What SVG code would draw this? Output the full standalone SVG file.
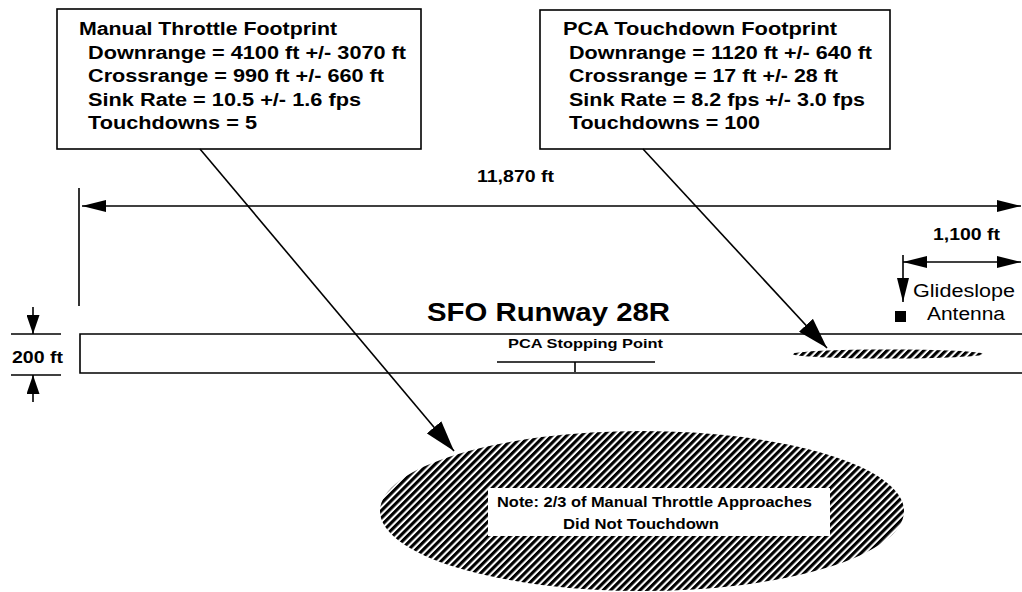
<svg xmlns="http://www.w3.org/2000/svg" width="1022" height="592" viewBox="0 0 1022 592">
<style>
text{font-family:"Liberation Sans",Arial,Helvetica,sans-serif;fill:#000}
.b{font-weight:bold}
.box{fill:#fff;stroke:#000;stroke-width:1.6}
.ln{fill:none;stroke:#000;stroke-width:1.6}
.t18{font-size:18px;font-weight:bold}
</style>
<defs>
<pattern id="hatch" patternUnits="userSpaceOnUse" width="5.2" height="10" patternTransform="rotate(45)">
<rect width="5.2" height="10" fill="#fff"/>
<rect width="3.1" height="10" fill="#000"/>
</pattern>
<marker id="dimA" markerUnits="userSpaceOnUse" markerWidth="24" markerHeight="12" refX="24" refY="6" orient="auto-start-reverse" viewBox="0 0 24 12">
<path d="M0,0 L24,6 L0,12 z" fill="#000"/>
</marker>
<marker id="smA" markerUnits="userSpaceOnUse" markerWidth="19" markerHeight="13" refX="19" refY="6.5" orient="auto" viewBox="0 0 19 13">
<path d="M0,0 L19,6.5 L0,13 z" fill="#000"/>
</marker>
<marker id="bigA" markerUnits="userSpaceOnUse" markerWidth="31" markerHeight="19" refX="31" refY="9.5" orient="auto" viewBox="0 0 31 19">
<path d="M0,0 L31,9.5 L0,19 z" fill="#000"/>
</marker>
</defs>
<rect width="1022" height="592" fill="#fff"/>

<g id="manual-footprint">
<ellipse cx="642" cy="511" rx="262" ry="80" fill="url(#hatch)"/>
<rect x="488" y="488" width="342" height="48" fill="#fff"/>
<text x="497" y="507" class="b" font-size="14" textLength="315" lengthAdjust="spacingAndGlyphs">Note: 2/3 of Manual Throttle Approaches</text>
<text x="563" y="529" class="b" font-size="14" textLength="156" lengthAdjust="spacingAndGlyphs">Did Not Touchdown</text>
</g>

<g id="runway">
<path class="ln" d="M1022,334 L80,334 L80,373 L1022,373"/>
<text x="427" y="321" class="b" font-size="26" textLength="243" lengthAdjust="spacingAndGlyphs">SFO Runway 28R</text>
</g>

<g id="stopping-point">
<text x="508" y="348" class="b" font-size="13" textLength="155" lengthAdjust="spacingAndGlyphs">PCA Stopping Point</text>
<path class="ln" d="M497,362 L655,362 M575,362 L575,372" stroke-width="1.3"/>
</g>

<g id="pca-footprint">
<ellipse cx="888" cy="354" rx="95" ry="4.5" fill="url(#hatch)"/>
</g>

<g id="glideslope">
<rect x="895" y="311" width="11" height="11" fill="#000"/>
<text x="913" y="297" font-size="18" textLength="102" lengthAdjust="spacingAndGlyphs">Glideslope</text>
<text x="927" y="320" font-size="18" textLength="78" lengthAdjust="spacingAndGlyphs">Antenna</text>
</g>

<g id="dim-11870">
<text x="477" y="182" class="b" font-size="16" textLength="77" lengthAdjust="spacingAndGlyphs">11,870 ft</text>
</g>

<g id="dim-1100">
<text x="933" y="240" class="b" font-size="16" textLength="67" lengthAdjust="spacingAndGlyphs">1,100 ft</text>
</g>

<g id="dim-200">
<text x="12" y="363" class="b" font-size="17" textLength="51" lengthAdjust="spacingAndGlyphs">200 ft</text>
</g>

<g id="box-manual">
<rect class="box" x="57" y="9" width="364" height="140"/>
<text x="79" y="35" class="t18" textLength="258" lengthAdjust="spacingAndGlyphs">Manual Throttle Footprint</text>
<text x="88" y="59" class="t18" textLength="318" lengthAdjust="spacingAndGlyphs">Downrange = 4100 ft +/- 3070 ft</text>
<text x="88" y="82" class="t18" textLength="296" lengthAdjust="spacingAndGlyphs">Crossrange = 990 ft +/- 660 ft</text>
<text x="88" y="106" class="t18" textLength="273" lengthAdjust="spacingAndGlyphs">Sink Rate = 10.5 +/- 1.6 fps</text>
<text x="88" y="129" class="t18" textLength="169" lengthAdjust="spacingAndGlyphs">Touchdowns = 5</text>
</g>

<g id="box-pca">
<rect class="box" x="540" y="10" width="350" height="139"/>
<text x="563" y="35" class="t18" textLength="274" lengthAdjust="spacingAndGlyphs">PCA Touchdown Footprint</text>
<text x="569" y="59" class="t18" textLength="303" lengthAdjust="spacingAndGlyphs">Downrange = 1120 ft +/- 640 ft</text>
<text x="569" y="82" class="t18" textLength="269" lengthAdjust="spacingAndGlyphs">Crossrange = 17 ft +/- 28 ft</text>
<text x="569" y="106" class="t18" textLength="296" lengthAdjust="spacingAndGlyphs">Sink Rate = 8.2 fps +/- 3.0 fps</text>
<text x="569" y="129" class="t18" textLength="191" lengthAdjust="spacingAndGlyphs">Touchdowns = 100</text>
</g>

<g id="connectors">
<line class="ln" x1="79" y1="188" x2="79" y2="306"/>
<line class="ln" x1="82" y1="206" x2="1021" y2="206" marker-start="url(#dimA)" marker-end="url(#dimA)"/>
<line class="ln" x1="903" y1="255" x2="903" y2="302" marker-end="url(#dimA)"/>
<line class="ln" x1="903" y1="262" x2="1021" y2="262" marker-start="url(#dimA)" marker-end="url(#dimA)"/>
<line class="ln" x1="11" y1="334" x2="61" y2="334"/>
<line class="ln" x1="11" y1="375" x2="61" y2="375"/>
<line class="ln" x1="33" y1="307" x2="33" y2="334" marker-end="url(#smA)"/>
<line class="ln" x1="33" y1="402" x2="33" y2="375" marker-end="url(#smA)"/>
<line class="ln" x1="200" y1="149" x2="454" y2="451" marker-end="url(#bigA)"/>
<line class="ln" x1="643" y1="149" x2="827" y2="348" marker-end="url(#bigA)"/>
</g>
</svg>
